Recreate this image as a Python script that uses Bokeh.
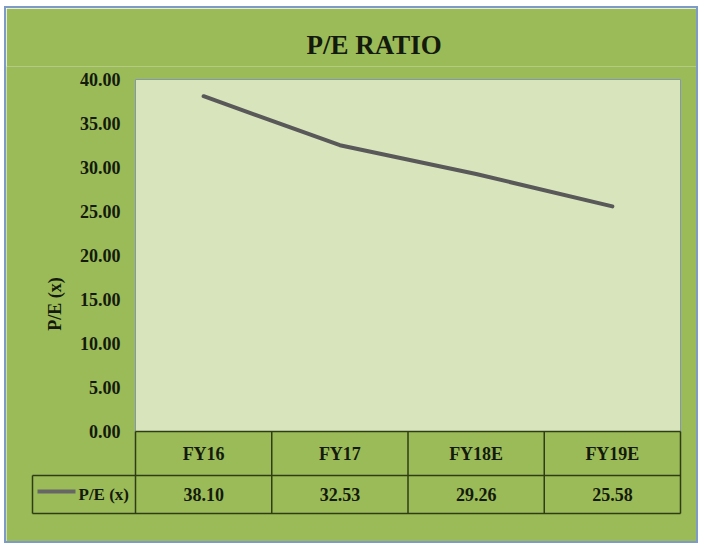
from bokeh.plotting import figure
from bokeh.layouts import column
from bokeh.models import Range1d, FixedTicker, PrintfTickFormatter
from bokeh.core.properties import value
from bokeh.embed import file_html
from bokeh.resources import INLINE

# ---------------- data ----------------
title_text = "P/E RATIO"
categories = ["FY16", "FY17", "FY18E", "FY19E"]
pe_values = [38.10, 32.53, 29.26, 25.58]
series_name = "P/E (x)"
y_ticks = [0, 5, 10, 15, 20, 25, 30, 35, 40]

# ---------------- style ----------------
GREEN = "#9BBB59"
PLOT_BG = "#D8E4BC"
PLOT_EDGE = "#8497B0"
LINE_C = "#595959"
GRID_C = "#2F3D14"
TXT = "#141A0C"
FONT_NAME = "Liberation Serif"
FONT = value(FONT_NAME)

n = len(categories)
xs = [i + 0.5 for i in range(n)]

# pixel geometry (the figure canvas spans page x 6..696, y 8..541)
PX_X = 545.0 / n            # px per category column
PX_Y = 352.0 / y_ticks[-1]  # px per P/E unit
LEG = -103.0 / PX_X         # left edge of the legend column
HDR_B = -44.0 / PX_Y        # bottom of header row
VAL_B = -82.0 / PX_Y        # bottom of value row

p = figure(width=690, height=533, output_backend="svg", toolbar_location=None,
           x_range=Range1d(-129.0 / PX_X, n + 16.0 / PX_X),
           y_range=Range1d(-110.0 / PX_Y, y_ticks[-1] + 13.0 / PX_Y),
           x_axis_location=None,
           min_border_left=0, min_border_right=0, min_border_top=58,
           min_border_bottom=0)
p.background_fill_color = GREEN
p.border_fill_color = GREEN
p.outline_line_color = None
p.grid.visible = False

p.title.text = title_text
p.title.text_font = FONT_NAME
p.title.text_font_size = "27px"
p.title.text_font_style = "bold"
p.title.text_color = TXT
p.title.align = "left"
p.title.offset = 300
p.title.standoff = 14

ax = p.yaxis[0]
ax.fixed_location = 0
ax.ticker = FixedTicker(ticks=y_ticks)
ax.formatter = PrintfTickFormatter(format="%.2f")
ax.major_label_text_font = FONT_NAME
ax.major_label_text_font_size = "18px"
ax.major_label_text_font_style = "bold"
ax.major_label_text_color = TXT
ax.major_tick_line_color = None
ax.major_tick_out = 0
ax.major_tick_in = 0
ax.minor_tick_line_color = None
ax.axis_line_color = None
ax.major_label_standoff = 15
ax.axis_label = series_name
ax.axis_label_text_font = FONT_NAME
ax.axis_label_text_font_size = "18px"
ax.axis_label_text_font_style = "bold"
ax.axis_label_text_color = TXT
ax.axis_label_standoff = 12

# plot area
p.quad(left=[0], right=[n], bottom=[y_ticks[0]], top=[y_ticks[-1]],
       fill_color=PLOT_BG, line_color=PLOT_EDGE, line_width=1)

# data table grid
x0s, y0s, x1s, y1s = [], [], [], []
for i in range(n + 1):
    x0s.append(i); y0s.append(VAL_B); x1s.append(i); y1s.append(0)
x0s.append(LEG); y0s.append(VAL_B); x1s.append(LEG); y1s.append(HDR_B)
x0s.append(0); y0s.append(0); x1s.append(n); y1s.append(0)
x0s.append(LEG); y0s.append(HDR_B); x1s.append(n); y1s.append(HDR_B)
x0s.append(LEG); y0s.append(VAL_B); x1s.append(n); y1s.append(VAL_B)
p.segment(x0s, y0s, x1s, y1s, line_color=GRID_C, line_width=1.5)

p.text(xs, [HDR_B / 2.0] * n, text=categories,
       text_font=FONT, text_font_size="18px", text_font_style="bold",
       text_color=TXT, text_align="center", text_baseline="middle")
p.text(xs, [(HDR_B + VAL_B) / 2.0] * n, text=["%.2f" % v for v in pe_values],
       text_font=FONT, text_font_size="18px", text_font_style="bold",
       text_color=TXT, text_align="center", text_baseline="middle")

# legend key in the table
key_y = HDR_B - 16.0 / PX_Y
p.segment([LEG + 5.0 / PX_X], [key_y], [LEG + 43.0 / PX_X], [key_y],
          line_color="#666666", line_width=4)
p.text([LEG + 46.0 / PX_X], [(HDR_B + VAL_B) / 2.0], text=[series_name],
       text_font=FONT, text_font_size="17px", text_font_style="bold",
       text_color=TXT, text_align="left", text_baseline="middle")

# series line
p.line(xs, pe_values, line_color=LINE_C, line_width=4,
       line_cap="round", line_join="round")

layout = column(p, styles={"border": "2px solid #7E9BC8",
                           "margin-top": "6px", "margin-left": "4px"})

open("out.html", "w").write(file_html(layout, INLINE))
